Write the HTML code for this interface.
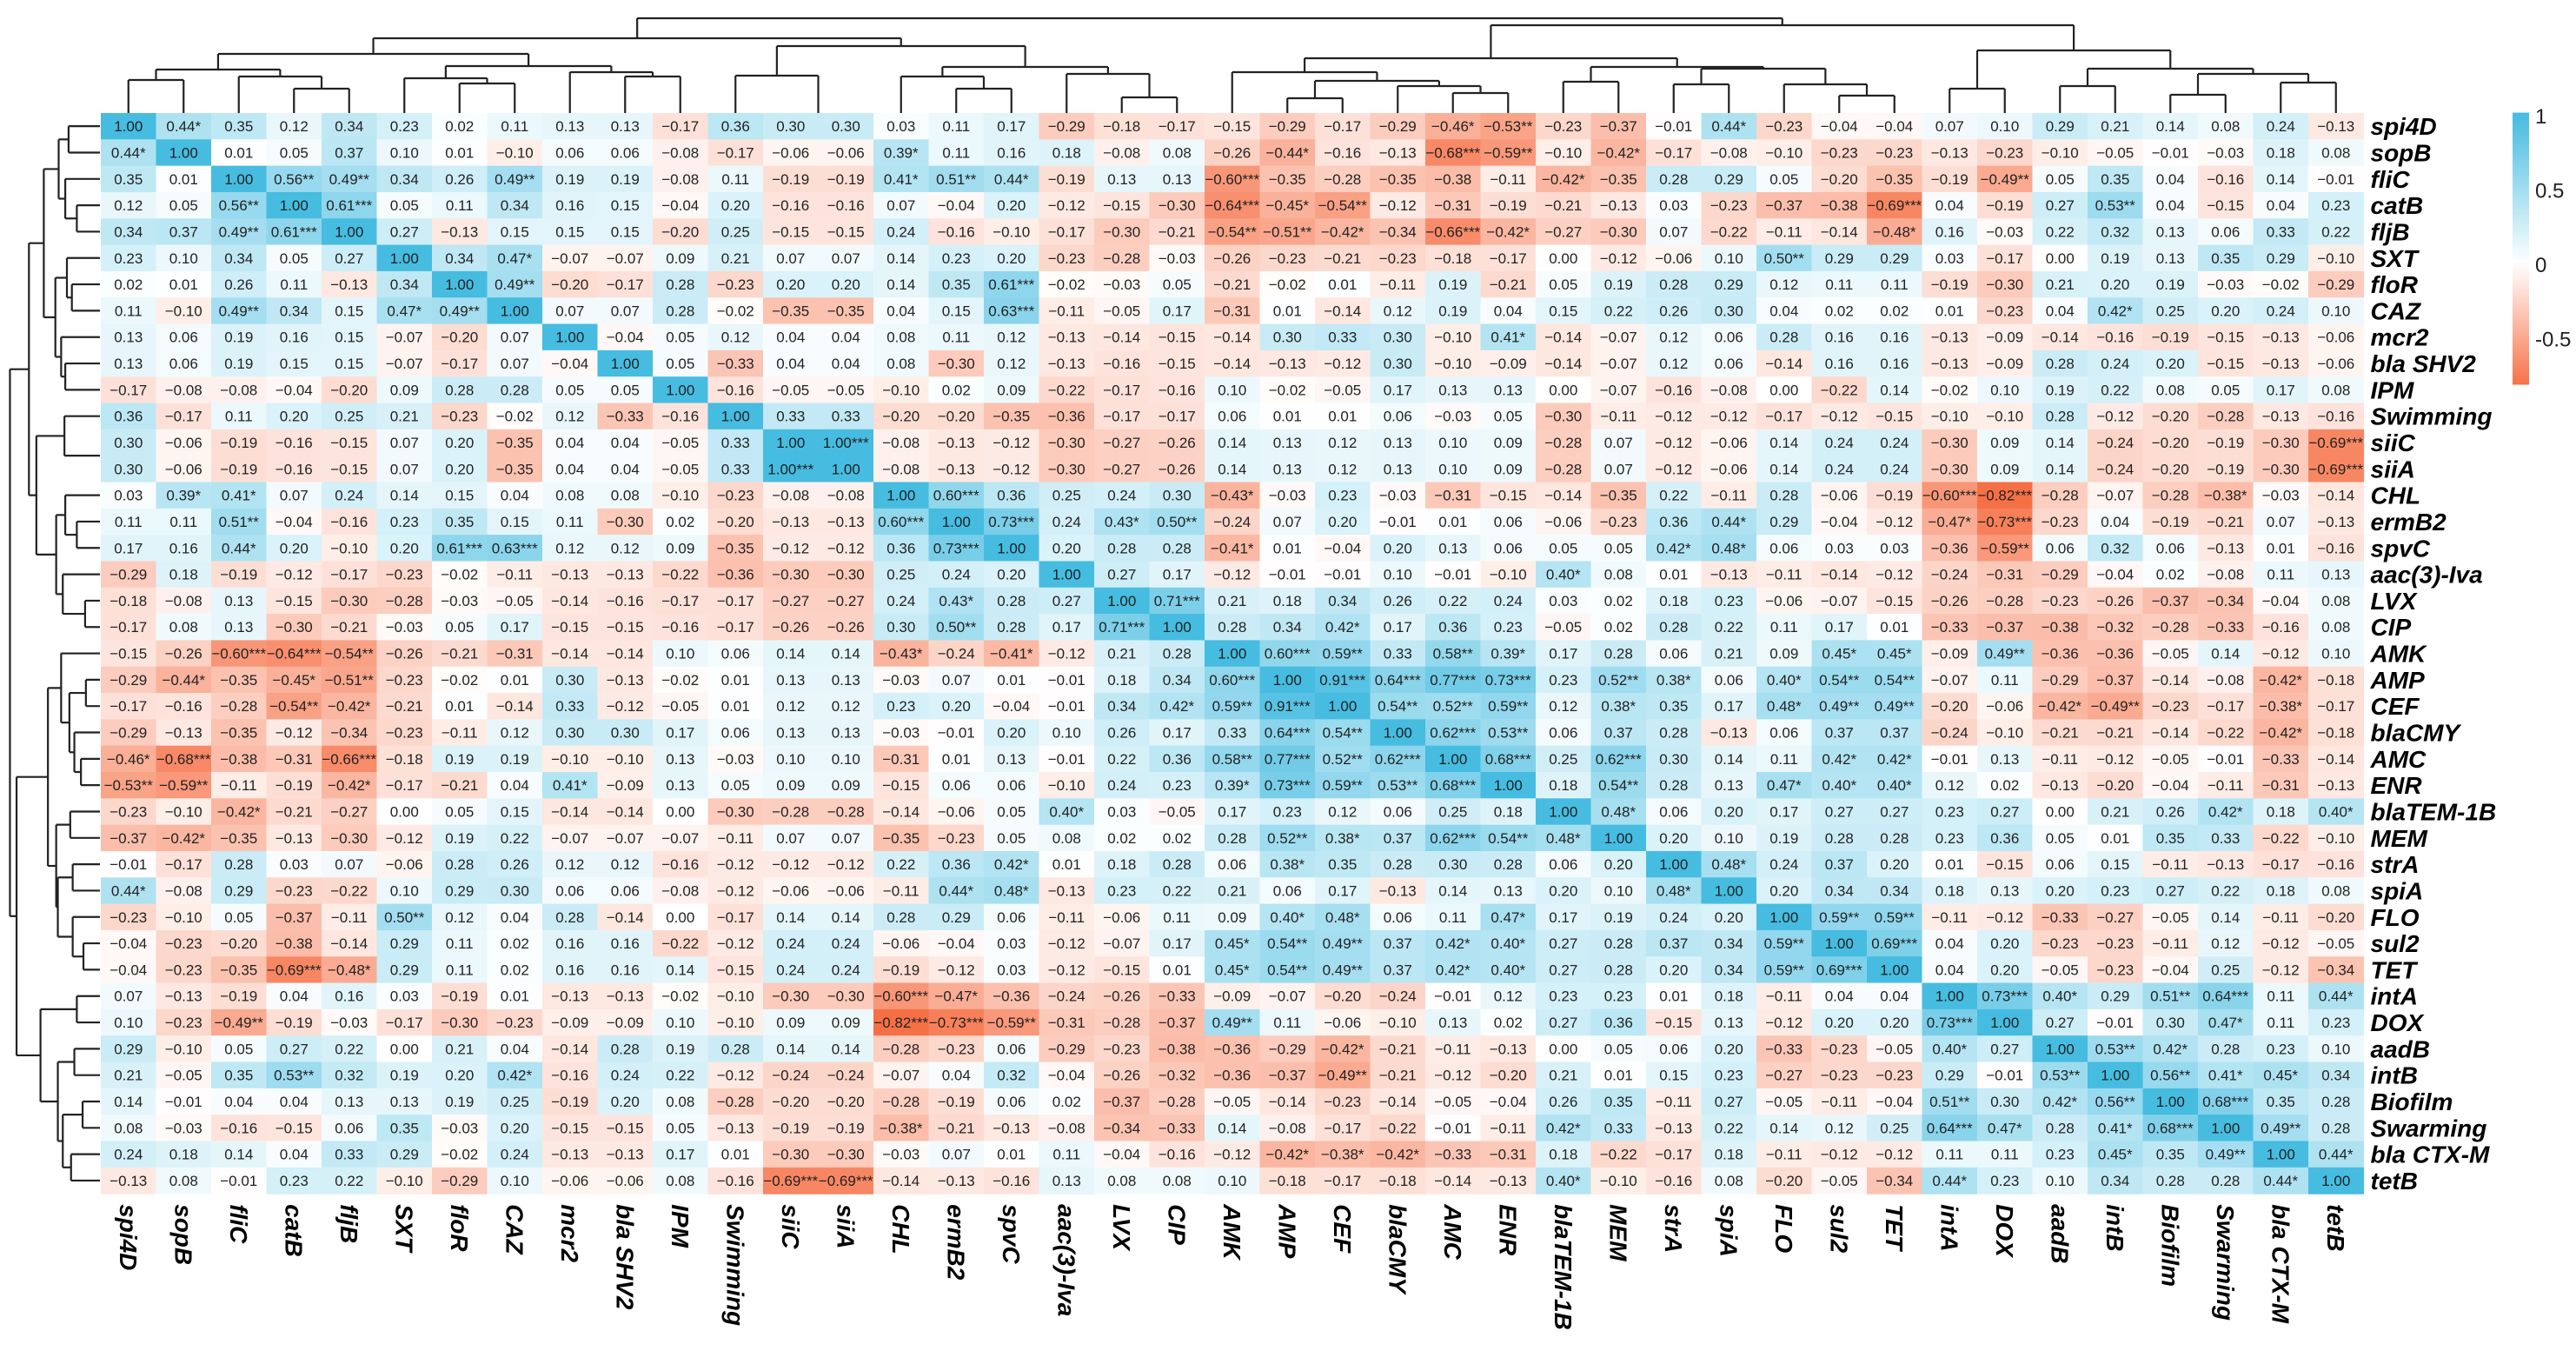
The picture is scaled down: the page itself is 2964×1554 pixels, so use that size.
<!DOCTYPE html>
<html><head><meta charset="utf-8"><title>Correlation heatmap</title>
<style>
html,body{margin:0;padding:0;background:#fff;}
svg{display:block;}
.cv{font-family:"Liberation Sans",Arial,sans-serif;font-size:17px;fill:#222;text-anchor:middle;}
.lab{font-family:"Liberation Sans",Arial,sans-serif;font-size:28px;font-weight:bold;font-style:italic;fill:#000;}
.cb{font-family:"Liberation Sans",Arial,sans-serif;font-size:24px;fill:#222;}
</style></head>
<body>
<svg id="chart" width="2964" height="1554" viewBox="0 0 2964 1554" xmlns="http://www.w3.org/2000/svg">
<defs>
<linearGradient id="cbgrad" x1="0" y1="0" x2="0" y2="1"></linearGradient>
</defs>
<g id="cells"></g>
<g id="vals"></g>
<g id="rowlabs"></g>
<g id="collabs"></g>
<g id="dtop"></g>
<g id="dleft"></g>
<g id="legend"></g>
</svg>
<script>
const labels = ["spi4D","sopB","fliC","catB","fljB","SXT","floR","CAZ","mcr2","bla SHV2","IPM","Swimming","siiC","siiA","CHL","ermB2","spvC","aac(3)-Iva","LVX","CIP","AMK","AMP","CEF","blaCMY","AMC","ENR","blaTEM-1B","MEM","strA","spiA","FLO","sul2","TET","intA","DOX","aadB","intB","Biofilm","Swarming","bla CTX-M","tetB"];

const rows = [
"1.00 0.44* 0.35 0.12 0.34 0.23 0.02 0.11 0.13 0.13 -0.17 0.36 0.30 0.30 0.03 0.11 0.17 -0.29 -0.18 -0.17 -0.15 -0.29 -0.17 -0.29 -0.46* -0.53** -0.23 -0.37 -0.01 0.44* -0.23 -0.04 -0.04 0.07 0.10 0.29 0.21 0.14 0.08 0.24 -0.13",
"0.44* 1.00 0.01 0.05 0.37 0.10 0.01 -0.10 0.06 0.06 -0.08 -0.17 -0.06 -0.06 0.39* 0.11 0.16 0.18 -0.08 0.08 -0.26 -0.44* -0.16 -0.13 -0.68*** -0.59** -0.10 -0.42* -0.17 -0.08 -0.10 -0.23 -0.23 -0.13 -0.23 -0.10 -0.05 -0.01 -0.03 0.18 0.08",
"0.35 0.01 1.00 0.56** 0.49** 0.34 0.26 0.49** 0.19 0.19 -0.08 0.11 -0.19 -0.19 0.41* 0.51** 0.44* -0.19 0.13 0.13 -0.60*** -0.35 -0.28 -0.35 -0.38 -0.11 -0.42* -0.35 0.28 0.29 0.05 -0.20 -0.35 -0.19 -0.49** 0.05 0.35 0.04 -0.16 0.14 -0.01",
"0.12 0.05 0.56** 1.00 0.61*** 0.05 0.11 0.34 0.16 0.15 -0.04 0.20 -0.16 -0.16 0.07 -0.04 0.20 -0.12 -0.15 -0.30 -0.64*** -0.45* -0.54** -0.12 -0.31 -0.19 -0.21 -0.13 0.03 -0.23 -0.37 -0.38 -0.69*** 0.04 -0.19 0.27 0.53** 0.04 -0.15 0.04 0.23",
"0.34 0.37 0.49** 0.61*** 1.00 0.27 -0.13 0.15 0.15 0.15 -0.20 0.25 -0.15 -0.15 0.24 -0.16 -0.10 -0.17 -0.30 -0.21 -0.54** -0.51** -0.42* -0.34 -0.66*** -0.42* -0.27 -0.30 0.07 -0.22 -0.11 -0.14 -0.48* 0.16 -0.03 0.22 0.32 0.13 0.06 0.33 0.22",
"0.23 0.10 0.34 0.05 0.27 1.00 0.34 0.47* -0.07 -0.07 0.09 0.21 0.07 0.07 0.14 0.23 0.20 -0.23 -0.28 -0.03 -0.26 -0.23 -0.21 -0.23 -0.18 -0.17 0.00 -0.12 -0.06 0.10 0.50** 0.29 0.29 0.03 -0.17 0.00 0.19 0.13 0.35 0.29 -0.10",
"0.02 0.01 0.26 0.11 -0.13 0.34 1.00 0.49** -0.20 -0.17 0.28 -0.23 0.20 0.20 0.14 0.35 0.61*** -0.02 -0.03 0.05 -0.21 -0.02 0.01 -0.11 0.19 -0.21 0.05 0.19 0.28 0.29 0.12 0.11 0.11 -0.19 -0.30 0.21 0.20 0.19 -0.03 -0.02 -0.29",
"0.11 -0.10 0.49** 0.34 0.15 0.47* 0.49** 1.00 0.07 0.07 0.28 -0.02 -0.35 -0.35 0.04 0.15 0.63*** -0.11 -0.05 0.17 -0.31 0.01 -0.14 0.12 0.19 0.04 0.15 0.22 0.26 0.30 0.04 0.02 0.02 0.01 -0.23 0.04 0.42* 0.25 0.20 0.24 0.10",
"0.13 0.06 0.19 0.16 0.15 -0.07 -0.20 0.07 1.00 -0.04 0.05 0.12 0.04 0.04 0.08 0.11 0.12 -0.13 -0.14 -0.15 -0.14 0.30 0.33 0.30 -0.10 0.41* -0.14 -0.07 0.12 0.06 0.28 0.16 0.16 -0.13 -0.09 -0.14 -0.16 -0.19 -0.15 -0.13 -0.06",
"0.13 0.06 0.19 0.15 0.15 -0.07 -0.17 0.07 -0.04 1.00 0.05 -0.33 0.04 0.04 0.08 -0.30 0.12 -0.13 -0.16 -0.15 -0.14 -0.13 -0.12 0.30 -0.10 -0.09 -0.14 -0.07 0.12 0.06 -0.14 0.16 0.16 -0.13 -0.09 0.28 0.24 0.20 -0.15 -0.13 -0.06",
"-0.17 -0.08 -0.08 -0.04 -0.20 0.09 0.28 0.28 0.05 0.05 1.00 -0.16 -0.05 -0.05 -0.10 0.02 0.09 -0.22 -0.17 -0.16 0.10 -0.02 -0.05 0.17 0.13 0.13 0.00 -0.07 -0.16 -0.08 0.00 -0.22 0.14 -0.02 0.10 0.19 0.22 0.08 0.05 0.17 0.08",
"0.36 -0.17 0.11 0.20 0.25 0.21 -0.23 -0.02 0.12 -0.33 -0.16 1.00 0.33 0.33 -0.20 -0.20 -0.35 -0.36 -0.17 -0.17 0.06 0.01 0.01 0.06 -0.03 0.05 -0.30 -0.11 -0.12 -0.12 -0.17 -0.12 -0.15 -0.10 -0.10 0.28 -0.12 -0.20 -0.28 -0.13 -0.16",
"0.30 -0.06 -0.19 -0.16 -0.15 0.07 0.20 -0.35 0.04 0.04 -0.05 0.33 1.00 1.00*** -0.08 -0.13 -0.12 -0.30 -0.27 -0.26 0.14 0.13 0.12 0.13 0.10 0.09 -0.28 0.07 -0.12 -0.06 0.14 0.24 0.24 -0.30 0.09 0.14 -0.24 -0.20 -0.19 -0.30 -0.69***",
"0.30 -0.06 -0.19 -0.16 -0.15 0.07 0.20 -0.35 0.04 0.04 -0.05 0.33 1.00*** 1.00 -0.08 -0.13 -0.12 -0.30 -0.27 -0.26 0.14 0.13 0.12 0.13 0.10 0.09 -0.28 0.07 -0.12 -0.06 0.14 0.24 0.24 -0.30 0.09 0.14 -0.24 -0.20 -0.19 -0.30 -0.69***",
"0.03 0.39* 0.41* 0.07 0.24 0.14 0.15 0.04 0.08 0.08 -0.10 -0.23 -0.08 -0.08 1.00 0.60*** 0.36 0.25 0.24 0.30 -0.43* -0.03 0.23 -0.03 -0.31 -0.15 -0.14 -0.35 0.22 -0.11 0.28 -0.06 -0.19 -0.60*** -0.82*** -0.28 -0.07 -0.28 -0.38* -0.03 -0.14",
"0.11 0.11 0.51** -0.04 -0.16 0.23 0.35 0.15 0.11 -0.30 0.02 -0.20 -0.13 -0.13 0.60*** 1.00 0.73*** 0.24 0.43* 0.50** -0.24 0.07 0.20 -0.01 0.01 0.06 -0.06 -0.23 0.36 0.44* 0.29 -0.04 -0.12 -0.47* -0.73*** -0.23 0.04 -0.19 -0.21 0.07 -0.13",
"0.17 0.16 0.44* 0.20 -0.10 0.20 0.61*** 0.63*** 0.12 0.12 0.09 -0.35 -0.12 -0.12 0.36 0.73*** 1.00 0.20 0.28 0.28 -0.41* 0.01 -0.04 0.20 0.13 0.06 0.05 0.05 0.42* 0.48* 0.06 0.03 0.03 -0.36 -0.59** 0.06 0.32 0.06 -0.13 0.01 -0.16",
"-0.29 0.18 -0.19 -0.12 -0.17 -0.23 -0.02 -0.11 -0.13 -0.13 -0.22 -0.36 -0.30 -0.30 0.25 0.24 0.20 1.00 0.27 0.17 -0.12 -0.01 -0.01 0.10 -0.01 -0.10 0.40* 0.08 0.01 -0.13 -0.11 -0.14 -0.12 -0.24 -0.31 -0.29 -0.04 0.02 -0.08 0.11 0.13",
"-0.18 -0.08 0.13 -0.15 -0.30 -0.28 -0.03 -0.05 -0.14 -0.16 -0.17 -0.17 -0.27 -0.27 0.24 0.43* 0.28 0.27 1.00 0.71*** 0.21 0.18 0.34 0.26 0.22 0.24 0.03 0.02 0.18 0.23 -0.06 -0.07 -0.15 -0.26 -0.28 -0.23 -0.26 -0.37 -0.34 -0.04 0.08",
"-0.17 0.08 0.13 -0.30 -0.21 -0.03 0.05 0.17 -0.15 -0.15 -0.16 -0.17 -0.26 -0.26 0.30 0.50** 0.28 0.17 0.71*** 1.00 0.28 0.34 0.42* 0.17 0.36 0.23 -0.05 0.02 0.28 0.22 0.11 0.17 0.01 -0.33 -0.37 -0.38 -0.32 -0.28 -0.33 -0.16 0.08",
"-0.15 -0.26 -0.60*** -0.64*** -0.54** -0.26 -0.21 -0.31 -0.14 -0.14 0.10 0.06 0.14 0.14 -0.43* -0.24 -0.41* -0.12 0.21 0.28 1.00 0.60*** 0.59** 0.33 0.58** 0.39* 0.17 0.28 0.06 0.21 0.09 0.45* 0.45* -0.09 0.49** -0.36 -0.36 -0.05 0.14 -0.12 0.10",
"-0.29 -0.44* -0.35 -0.45* -0.51** -0.23 -0.02 0.01 0.30 -0.13 -0.02 0.01 0.13 0.13 -0.03 0.07 0.01 -0.01 0.18 0.34 0.60*** 1.00 0.91*** 0.64*** 0.77*** 0.73*** 0.23 0.52** 0.38* 0.06 0.40* 0.54** 0.54** -0.07 0.11 -0.29 -0.37 -0.14 -0.08 -0.42* -0.18",
"-0.17 -0.16 -0.28 -0.54** -0.42* -0.21 0.01 -0.14 0.33 -0.12 -0.05 0.01 0.12 0.12 0.23 0.20 -0.04 -0.01 0.34 0.42* 0.59** 0.91*** 1.00 0.54** 0.52** 0.59** 0.12 0.38* 0.35 0.17 0.48* 0.49** 0.49** -0.20 -0.06 -0.42* -0.49** -0.23 -0.17 -0.38* -0.17",
"-0.29 -0.13 -0.35 -0.12 -0.34 -0.23 -0.11 0.12 0.30 0.30 0.17 0.06 0.13 0.13 -0.03 -0.01 0.20 0.10 0.26 0.17 0.33 0.64*** 0.54** 1.00 0.62*** 0.53** 0.06 0.37 0.28 -0.13 0.06 0.37 0.37 -0.24 -0.10 -0.21 -0.21 -0.14 -0.22 -0.42* -0.18",
"-0.46* -0.68*** -0.38 -0.31 -0.66*** -0.18 0.19 0.19 -0.10 -0.10 0.13 -0.03 0.10 0.10 -0.31 0.01 0.13 -0.01 0.22 0.36 0.58** 0.77*** 0.52** 0.62*** 1.00 0.68*** 0.25 0.62*** 0.30 0.14 0.11 0.42* 0.42* -0.01 0.13 -0.11 -0.12 -0.05 -0.01 -0.33 -0.14",
"-0.53** -0.59** -0.11 -0.19 -0.42* -0.17 -0.21 0.04 0.41* -0.09 0.13 0.05 0.09 0.09 -0.15 0.06 0.06 -0.10 0.24 0.23 0.39* 0.73*** 0.59** 0.53** 0.68*** 1.00 0.18 0.54** 0.28 0.13 0.47* 0.40* 0.40* 0.12 0.02 -0.13 -0.20 -0.04 -0.11 -0.31 -0.13",
"-0.23 -0.10 -0.42* -0.21 -0.27 0.00 0.05 0.15 -0.14 -0.14 0.00 -0.30 -0.28 -0.28 -0.14 -0.06 0.05 0.40* 0.03 -0.05 0.17 0.23 0.12 0.06 0.25 0.18 1.00 0.48* 0.06 0.20 0.17 0.27 0.27 0.23 0.27 0.00 0.21 0.26 0.42* 0.18 0.40*",
"-0.37 -0.42* -0.35 -0.13 -0.30 -0.12 0.19 0.22 -0.07 -0.07 -0.07 -0.11 0.07 0.07 -0.35 -0.23 0.05 0.08 0.02 0.02 0.28 0.52** 0.38* 0.37 0.62*** 0.54** 0.48* 1.00 0.20 0.10 0.19 0.28 0.28 0.23 0.36 0.05 0.01 0.35 0.33 -0.22 -0.10",
"-0.01 -0.17 0.28 0.03 0.07 -0.06 0.28 0.26 0.12 0.12 -0.16 -0.12 -0.12 -0.12 0.22 0.36 0.42* 0.01 0.18 0.28 0.06 0.38* 0.35 0.28 0.30 0.28 0.06 0.20 1.00 0.48* 0.24 0.37 0.20 0.01 -0.15 0.06 0.15 -0.11 -0.13 -0.17 -0.16",
"0.44* -0.08 0.29 -0.23 -0.22 0.10 0.29 0.30 0.06 0.06 -0.08 -0.12 -0.06 -0.06 -0.11 0.44* 0.48* -0.13 0.23 0.22 0.21 0.06 0.17 -0.13 0.14 0.13 0.20 0.10 0.48* 1.00 0.20 0.34 0.34 0.18 0.13 0.20 0.23 0.27 0.22 0.18 0.08",
"-0.23 -0.10 0.05 -0.37 -0.11 0.50** 0.12 0.04 0.28 -0.14 0.00 -0.17 0.14 0.14 0.28 0.29 0.06 -0.11 -0.06 0.11 0.09 0.40* 0.48* 0.06 0.11 0.47* 0.17 0.19 0.24 0.20 1.00 0.59** 0.59** -0.11 -0.12 -0.33 -0.27 -0.05 0.14 -0.11 -0.20",
"-0.04 -0.23 -0.20 -0.38 -0.14 0.29 0.11 0.02 0.16 0.16 -0.22 -0.12 0.24 0.24 -0.06 -0.04 0.03 -0.12 -0.07 0.17 0.45* 0.54** 0.49** 0.37 0.42* 0.40* 0.27 0.28 0.37 0.34 0.59** 1.00 0.69*** 0.04 0.20 -0.23 -0.23 -0.11 0.12 -0.12 -0.05",
"-0.04 -0.23 -0.35 -0.69*** -0.48* 0.29 0.11 0.02 0.16 0.16 0.14 -0.15 0.24 0.24 -0.19 -0.12 0.03 -0.12 -0.15 0.01 0.45* 0.54** 0.49** 0.37 0.42* 0.40* 0.27 0.28 0.20 0.34 0.59** 0.69*** 1.00 0.04 0.20 -0.05 -0.23 -0.04 0.25 -0.12 -0.34",
"0.07 -0.13 -0.19 0.04 0.16 0.03 -0.19 0.01 -0.13 -0.13 -0.02 -0.10 -0.30 -0.30 -0.60*** -0.47* -0.36 -0.24 -0.26 -0.33 -0.09 -0.07 -0.20 -0.24 -0.01 0.12 0.23 0.23 0.01 0.18 -0.11 0.04 0.04 1.00 0.73*** 0.40* 0.29 0.51** 0.64*** 0.11 0.44*",
"0.10 -0.23 -0.49** -0.19 -0.03 -0.17 -0.30 -0.23 -0.09 -0.09 0.10 -0.10 0.09 0.09 -0.82*** -0.73*** -0.59** -0.31 -0.28 -0.37 0.49** 0.11 -0.06 -0.10 0.13 0.02 0.27 0.36 -0.15 0.13 -0.12 0.20 0.20 0.73*** 1.00 0.27 -0.01 0.30 0.47* 0.11 0.23",
"0.29 -0.10 0.05 0.27 0.22 0.00 0.21 0.04 -0.14 0.28 0.19 0.28 0.14 0.14 -0.28 -0.23 0.06 -0.29 -0.23 -0.38 -0.36 -0.29 -0.42* -0.21 -0.11 -0.13 0.00 0.05 0.06 0.20 -0.33 -0.23 -0.05 0.40* 0.27 1.00 0.53** 0.42* 0.28 0.23 0.10",
"0.21 -0.05 0.35 0.53** 0.32 0.19 0.20 0.42* -0.16 0.24 0.22 -0.12 -0.24 -0.24 -0.07 0.04 0.32 -0.04 -0.26 -0.32 -0.36 -0.37 -0.49** -0.21 -0.12 -0.20 0.21 0.01 0.15 0.23 -0.27 -0.23 -0.23 0.29 -0.01 0.53** 1.00 0.56** 0.41* 0.45* 0.34",
"0.14 -0.01 0.04 0.04 0.13 0.13 0.19 0.25 -0.19 0.20 0.08 -0.28 -0.20 -0.20 -0.28 -0.19 0.06 0.02 -0.37 -0.28 -0.05 -0.14 -0.23 -0.14 -0.05 -0.04 0.26 0.35 -0.11 0.27 -0.05 -0.11 -0.04 0.51** 0.30 0.42* 0.56** 1.00 0.68*** 0.35 0.28",
"0.08 -0.03 -0.16 -0.15 0.06 0.35 -0.03 0.20 -0.15 -0.15 0.05 -0.13 -0.19 -0.19 -0.38* -0.21 -0.13 -0.08 -0.34 -0.33 0.14 -0.08 -0.17 -0.22 -0.01 -0.11 0.42* 0.33 -0.13 0.22 0.14 0.12 0.25 0.64*** 0.47* 0.28 0.41* 0.68*** 1.00 0.49** 0.28",
"0.24 0.18 0.14 0.04 0.33 0.29 -0.02 0.24 -0.13 -0.13 0.17 0.01 -0.30 -0.30 -0.03 0.07 0.01 0.11 -0.04 -0.16 -0.12 -0.42* -0.38* -0.42* -0.33 -0.31 0.18 -0.22 -0.17 0.18 -0.11 -0.12 -0.12 0.11 0.11 0.23 0.45* 0.35 0.49** 1.00 0.44*",
"-0.13 0.08 -0.01 0.23 0.22 -0.10 -0.29 0.10 -0.06 -0.06 0.08 -0.16 -0.69*** -0.69*** -0.14 -0.13 -0.16 0.13 0.08 0.08 0.10 -0.18 -0.17 -0.18 -0.14 -0.13 0.40* -0.10 -0.16 0.08 -0.20 -0.05 -0.34 0.44* 0.23 0.10 0.34 0.28 0.28 0.44* 1.00"
];

// dendrogram: [mergeDistance, left, right]; leaves are label indices
const tree = [109,
  [86,
    [68,[50,[38,0,1],[42,2,[28,3,4]]],[54,[40,5,[34,6,7]],[47,8,[42,9,10]]]],
    [77,[43,11,[0,12,13]],[53,[42,14,[28,15,16]],[45,17,[18,18,19]]]]],
  [101,
    [63,[47,20,[37,[17,21,22],[31,23,[23,24,25]]]],[53,[36,26,27],[51,[33,28,29],[33,30,[20,31,32]]]]],
    [72,[28,33,34],[51,[31,35,36],[45,[21,37,38],[35,39,40]]]]]];

const legendTicks = [1, 0.5, 0, -0.5];
const legendTickText = ["1", "0.5", "0", "-0.5"];

const NS = "http://www.w3.org/2000/svg";
const GX = 116, GY = 130, CW = 63.5, CH = 30.32;
const VMIN = -0.82, VMAX = 1;
const n = labels.length;
const xPos = i => GX + i * CW;
const yPos = i => GY + i * CH;

function color(v) {
  let r, g, b;
  if (v >= 0) {
    const t = Math.min(1, v / VMAX);
    r = 255 + (70 - 255) * t; g = 255 + (188 - 255) * t; b = 255 + (224 - 255) * t;
  } else {
    const t = Math.min(1, v / VMIN);
    r = 255 + (246 - 255) * t; g = 255 + (112 - 255) * t; b = 255 + (70 - 255) * t;
  }
  return "rgb(" + Math.round(r) + "," + Math.round(g) + "," + Math.round(b) + ")";
}
function mk(tag, attrs, parent) {
  const e = document.createElementNS(NS, tag);
  for (const k in attrs) e.setAttribute(k, attrs[k]);
  parent.appendChild(e);
  return e;
}

const cells = document.getElementById("cells");
const vals = document.getElementById("vals");
rows.forEach((row, i) => {
  const toks = row.trim().split(/\s+/);
  toks.forEach((tok, j) => {
    const v = parseFloat(tok.replace(/\*/g, ""));
    const r = mk("rect", {x: xPos(j), y: yPos(i), width: CW + 0.6, height: CH + 0.6, fill: color(v)}, cells);
    
    
    const t = mk("text", {x: xPos(j) + CW / 2, y: yPos(i) + CH / 2 + 6, class: "cv"}, vals);
    t.textContent = tok.replace("-", "\u2212");
    
    
  });
});

const rowlabs = document.getElementById("rowlabs");
const collabs = document.getElementById("collabs");
labels.forEach((lab, i) => {
  const t = mk("text", {x: GX + n * CW + 8, y: yPos(i) + CH / 2 + 10, class: "lab"}, rowlabs);
  t.textContent = lab;
  
  
  const cx = xPos(i) + CW / 2 - 10, cy = GY + n * CH + 12;
  const c = mk("text", {x: 0, y: 0, class: "lab", transform: "translate(" + cx + "," + cy + ") rotate(90)"}, collabs);
  c.textContent = lab;
  
  
});

// dendrograms
const dtop = document.getElementById("dtop");
const dleft = document.getElementById("dleft");
function line(g, x1, y1, x2, y2) {
  const l = mk("line", {x1: x1, y1: y1, x2: x2, y2: y2, stroke: "#222", "stroke-width": 2.2}, g);
  
  
}
const topY = d => GY - d;
const leftX = d => GX - 1 - d * 0.95;
function drawTree(node) {
  if (typeof node === "number") return {p: node + 0.5, d: 0};
  const a = drawTree(node[1]), b = drawTree(node[2]);
  const d = node[0];
  if (d > 0) {
    // top
    const pa = GX + a.p * CW, pb = GX + b.p * CW;
    line(dtop, pa, topY(a.d), pa, topY(d));
    line(dtop, pb, topY(b.d), pb, topY(d));
    line(dtop, pa, topY(d), pb, topY(d));
    // left
    const qa = GY + a.p * CH, qb = GY + b.p * CH;
    line(dleft, leftX(a.d), qa, leftX(d), qa);
    line(dleft, leftX(b.d), qb, leftX(d), qb);
    line(dleft, leftX(d), qa, leftX(d), qb);
  }
  return {p: (a.p + b.p) / 2, d: d};
}
drawTree(tree);

// color legend
const LY0 = 304, LS = 171;
const lyPos = v => LY0 - v * LS;
const grad = document.getElementById("cbgrad");
for (let k = 0; k <= 20; k++) {
  const v = 1.02 - k * (1.02 + 0.81) / 20;
  mk("stop", {offset: (k / 20 * 100) + "%", "stop-color": color(v)}, grad);
}
const legend = document.getElementById("legend");
const bar = mk("rect", {x: 2891, y: lyPos(1.02), width: 19, height: lyPos(-0.81) - lyPos(1.02), fill: "url(#cbgrad)"}, legend);


legendTicks.forEach((v, k) => {
  const t = mk("text", {x: 2917, y: lyPos(v) + 9, class: "cb"}, legend);
  t.textContent = legendTickText[k];
  
  
});
</script>
</body></html>
